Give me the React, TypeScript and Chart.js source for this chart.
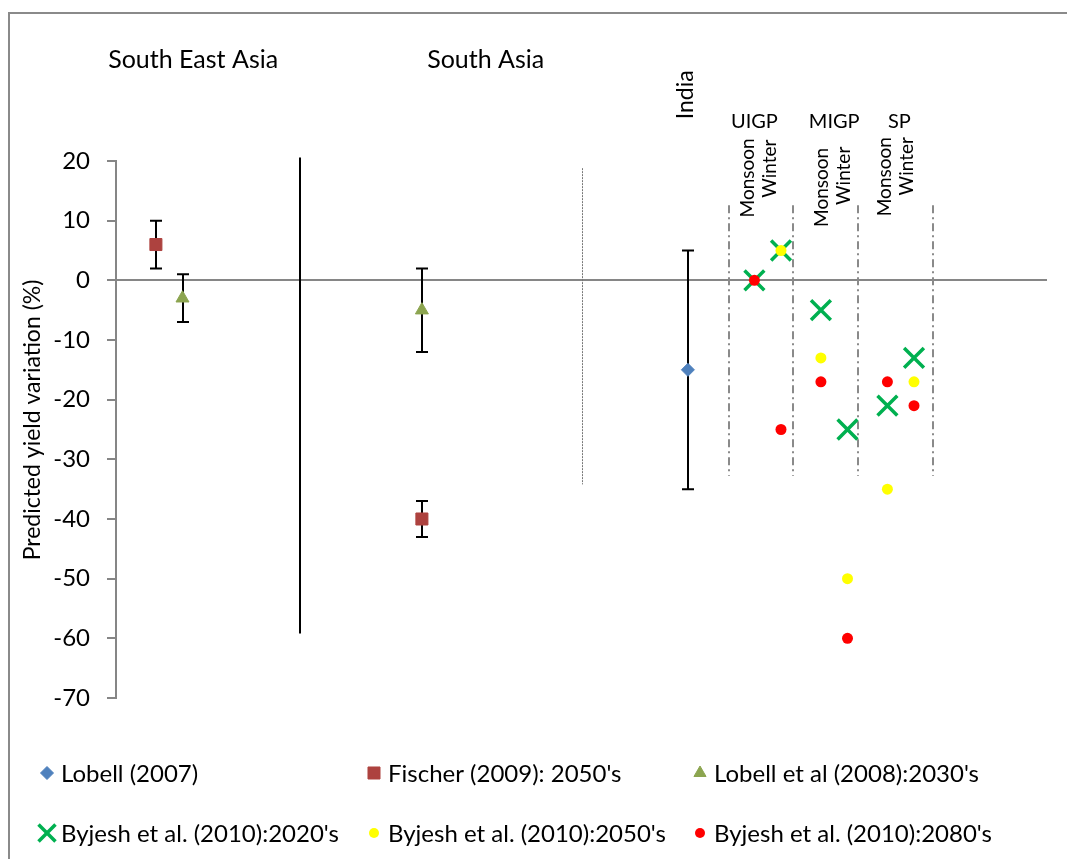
import React, { useEffect, useRef } from 'react';
import { Chart, registerables } from 'chart.js';
import { drawPoint } from 'chart.js/helpers';

Chart.register(...registerables);

const FONT = 'Lato, "Open Sans", sans-serif';

// ---- Data ----
const lobell2007X = [21.5];
const lobell2007Y = [-15];
const lobell2007Low = [-35];
const lobell2007High = [5];

const fischerX = [1.5, 11.5];
const fischerY = [6, -40];
const fischerLow = [2, -43];
const fischerHigh = [10, -37];

const lobell2008X = [2.5, 11.5];
const lobell2008Y = [-3, -5];
const lobell2008Low = [-7, -12];
const lobell2008High = [1, 2];

const byjeshX = [24, 25, 26.5, 27.5, 29, 30];
const byjesh2020 = [0, 5, -5, -25, -21, -13];
const byjesh2050X = [25, 26.5, 27.5, 29, 30];
const byjesh2050 = [5, -13, -50, -35, -17];
const byjesh2080 = [0, -25, -17, -60, -17, -21];

const yTicks = { min: -70, max: 20, step: 10 };

// divider lines (x, yTop, yBottom)
const regionDivider = { x: 6.9, top: 20.6, bottom: -59.2 };
const indiaDivider = { x: 17.5, top: 18.8, bottom: -34.2 };
const zoneDividersX = [23.05, 25.45, 27.9, 30.7];
const zoneDividerSpan = { top: 12.6, bottom: -32.8 };

const regionLabels = [
  { text: 'South East Asia', x: 2.9, y: 37 },
  { text: 'South Asia', x: 13.9, y: 37 },
];
const zoneLabels = [
  { text: 'UIGP', x: 24.0, y: 26.6 },
  { text: 'MIGP', x: 27.0, y: 26.6 },
  { text: 'SP', x: 29.45, y: 26.6 },
];
const seasonLabels = [
  { text: 'Monsoon', x: 23.75, top: 23.8 },
  { text: 'Winter', x: 24.6, top: 23.6 },
  { text: 'Monsoon', x: 26.55, top: 22.2 },
  { text: 'Winter', x: 27.35, top: 22.4 },
  { text: 'Monsoon', x: 28.9, top: 24.0 },
  { text: 'Winter', x: 29.75, top: 24.0 },
];
const indiaLabel = { text: 'India', x: 21.43, top: 35.2 };

function mkPoints(xs: number[], ys: number[]) {
  return xs.map((x, i) => ({ x, y: ys[i] }));
}

const errorBars = [
  { xs: lobell2007X, lo: lobell2007Low, hi: lobell2007High },
  { xs: fischerX, lo: fischerLow, hi: fischerHigh },
  { xs: lobell2008X, lo: lobell2008Low, hi: lobell2008High },
];

const annotationPlugin = {
  id: 'annotations',
  beforeDraw(chart: any) {
    const ctx = chart.ctx;
    ctx.save();
    ctx.fillStyle = '#fff';
    ctx.fillRect(0, 0, chart.width, chart.height);
    ctx.strokeStyle = '#8a8a8a';
    ctx.lineWidth = 2;
    ctx.strokeRect(9, 13, chart.width + 20, chart.height + 20);
    ctx.restore();
  },
  beforeDatasetsDraw(chart: any) {
    const ctx = chart.ctx;
    const xs = chart.scales.x;
    const ys = chart.scales.y;
    ctx.save();
    // solid region divider
    ctx.strokeStyle = '#000';
    ctx.lineWidth = 2;
    ctx.beginPath();
    let px = Math.round(xs.getPixelForValue(regionDivider.x));
    ctx.moveTo(px, ys.getPixelForValue(regionDivider.top));
    ctx.lineTo(px, ys.getPixelForValue(regionDivider.bottom));
    ctx.stroke();
    // dotted India divider
    ctx.strokeStyle = '#777';
    ctx.lineWidth = 1;
    ctx.setLineDash([2, 1]);
    ctx.beginPath();
    px = Math.round(xs.getPixelForValue(indiaDivider.x)) + 0.5;
    ctx.moveTo(px, ys.getPixelForValue(indiaDivider.top));
    ctx.lineTo(px, ys.getPixelForValue(indiaDivider.bottom));
    ctx.stroke();
    // dash-dot zone dividers
    ctx.strokeStyle = '#8a8a8a';
    ctx.lineWidth = 2;
    ctx.setLineDash([8, 4, 2, 4]);
    zoneDividersX.forEach((v) => {
      const p = Math.round(xs.getPixelForValue(v));
      ctx.beginPath();
      ctx.moveTo(p, ys.getPixelForValue(zoneDividerSpan.top));
      ctx.lineTo(p, ys.getPixelForValue(zoneDividerSpan.bottom));
      ctx.stroke();
    });
    ctx.setLineDash([]);
    // error bars
    ctx.strokeStyle = '#000';
    ctx.lineWidth = 2;
    errorBars.forEach((eb) => {
      eb.xs.forEach((x, i) => {
        const p = Math.round(xs.getPixelForValue(x));
        const y1 = ys.getPixelForValue(eb.hi[i]);
        const y2 = ys.getPixelForValue(eb.lo[i]);
        ctx.beginPath();
        ctx.moveTo(p, y1);
        ctx.lineTo(p, y2);
        ctx.moveTo(p - 6, y1);
        ctx.lineTo(p + 6, y1);
        ctx.moveTo(p - 6, y2);
        ctx.lineTo(p + 6, y2);
        ctx.stroke();
      });
    });
    ctx.restore();
  },
  afterDraw(chart: any) {
    const ctx = chart.ctx;
    const xs = chart.scales.x;
    const ys = chart.scales.y;
    ctx.save();
    ctx.fillStyle = '#000';
    // region labels
    ctx.font = `25px ${FONT}`;
    ctx.textAlign = 'center';
    ctx.textBaseline = 'middle';
    regionLabels.forEach((l) => {
      ctx.fillText(l.text, xs.getPixelForValue(l.x), ys.getPixelForValue(l.y));
    });
    // zone labels
    ctx.font = `20px ${FONT}`;
    zoneLabels.forEach((l) => {
      ctx.fillText(l.text, xs.getPixelForValue(l.x), ys.getPixelForValue(l.y));
    });
    // rotated labels
    const rot = (text: string, x: number, top: number, size: number) => {
      ctx.save();
      ctx.translate(x, top);
      ctx.rotate(-Math.PI / 2);
      ctx.font = `${size}px ${FONT}`;
      ctx.textAlign = 'right';
      ctx.textBaseline = 'middle';
      ctx.fillText(text, 0, 0);
      ctx.restore();
    };
    rot(indiaLabel.text, xs.getPixelForValue(indiaLabel.x), ys.getPixelForValue(indiaLabel.top), 23);
    seasonLabels.forEach((l) => rot(l.text, xs.getPixelForValue(l.x), ys.getPixelForValue(l.top), 19));
    // y title
    ctx.save();
    ctx.translate(33, 420);
    ctx.rotate(-Math.PI / 2);
    ctx.font = `23px ${FONT}`;
    ctx.textAlign = 'center';
    ctx.textBaseline = 'middle';
    ctx.fillText('Predicted yield variation (%)', 0, 0);
    ctx.restore();
    // legend
    const colX = [47, 374, 700];
    const rowY = [773, 833];
    ctx.font = `24px ${FONT}`;
    ctx.textAlign = 'left';
    ctx.textBaseline = 'middle';
    chart.data.datasets.forEach((ds: any) => {
      const slot = ds.legendSlot;
      const cx = colX[slot % 3];
      const cy = rowY[Math.floor(slot / 3)];
      ctx.save();
      ctx.fillStyle = ds.backgroundColor;
      ctx.strokeStyle = ds.borderColor;
      ctx.lineWidth = ds.borderWidth;
      drawPoint(ctx, { pointStyle: ds.pointStyle, radius: ds.legendRadius, borderWidth: ds.borderWidth, rotation: 0 }, cx, cy);
      ctx.restore();
      ctx.fillStyle = '#000';
      ctx.fillText(ds.label, cx + 14, cy + 1);
    });
    ctx.restore();
  },
};

export default function App() {
  const ref = useRef<HTMLCanvasElement | null>(null);
  useEffect(() => {
    document.body.style.margin = '0';
    if (!ref.current) return;
    const chart = new Chart(ref.current, {
      type: 'scatter',
      data: {
        datasets: [
          {
            label: 'Lobell (2007)',
            data: mkPoints(lobell2007X, lobell2007Y),
            pointStyle: 'rectRot',
            radius: 6.5,
            legendRadius: 6.5,
            backgroundColor: '#4F81BD',
            borderColor: '#4F81BD',
            borderWidth: 1,
            order: 3,
            legendSlot: 0,
          } as any,
          {
            label: "Fischer (2009): 2050's",
            data: mkPoints(fischerX, fischerY),
            pointStyle: 'rect',
            radius: 8.5,
            legendRadius: 8.5,
            backgroundColor: '#AD423F',
            borderColor: '#AD423F',
            borderWidth: 1,
            order: 4,
            legendSlot: 1,
          } as any,
          {
            label: "Lobell et al (2008):2030's",
            data: mkPoints(lobell2008X, lobell2008Y),
            pointStyle: 'triangle',
            radius: 7.5,
            legendRadius: 7,
            backgroundColor: '#8CA550',
            borderColor: '#8CA550',
            borderWidth: 1,
            order: 5,
            legendSlot: 2,
          } as any,
          {
            label: "Byjesh et al. (2010):2020's",
            data: mkPoints(byjeshX, byjesh2020),
            pointStyle: 'crossRot',
            radius: 14,
            legendRadius: 12,
            backgroundColor: '#00B050',
            borderColor: '#00B050',
            borderWidth: 3.5,
            order: 2,
            legendSlot: 3,
          } as any,
          {
            label: "Byjesh et al. (2010):2050's",
            data: mkPoints(byjesh2050X, byjesh2050),
            pointStyle: 'circle',
            radius: 5.5,
            legendRadius: 5,
            backgroundColor: '#FFFF00',
            borderColor: '#FFFF00',
            borderWidth: 0,
            order: 1,
            legendSlot: 4,
          } as any,
          {
            label: "Byjesh et al. (2010):2080's",
            data: mkPoints(byjeshX, byjesh2080),
            pointStyle: 'circle',
            radius: 5.5,
            legendRadius: 5,
            backgroundColor: '#FF0000',
            borderColor: '#FF0000',
            borderWidth: 0,
            order: 0,
            legendSlot: 5,
          } as any,
        ],
      },
      options: {
        animation: false,
        responsive: false,
        maintainAspectRatio: false,
        layout: { padding: { top: 161, bottom: 161, left: 0, right: 20 } },
        plugins: { legend: { display: false }, tooltip: { enabled: false } },
        scales: {
          x: { type: 'linear', min: 0, max: 35, display: false },
          y: {
            min: yTicks.min,
            max: yTicks.max,
            ticks: {
              stepSize: yTicks.step,
              padding: 17,
              color: '#000',
              font: { family: FONT, size: 24 },
            },
            grid: {
              color: (c: any) => (c.tick && c.tick.value === 0 ? '#868686' : 'rgba(0,0,0,0)'),
              lineWidth: 2,
              tickColor: '#868686',
              tickLength: 9,
              tickWidth: 2,
            },
            border: { color: '#868686', width: 2 },
            afterFit: (s: any) => {
              s.width = 116;
            },
          },
        },
      } as any,
      plugins: [annotationPlugin],
    });
    return () => chart.destroy();
  }, []);
  return (
    <div style={{ width: 1067, height: 859 }}>
      <canvas ref={ref} width={1067} height={859} style={{ display: 'block' }} />
    </div>
  );
}
